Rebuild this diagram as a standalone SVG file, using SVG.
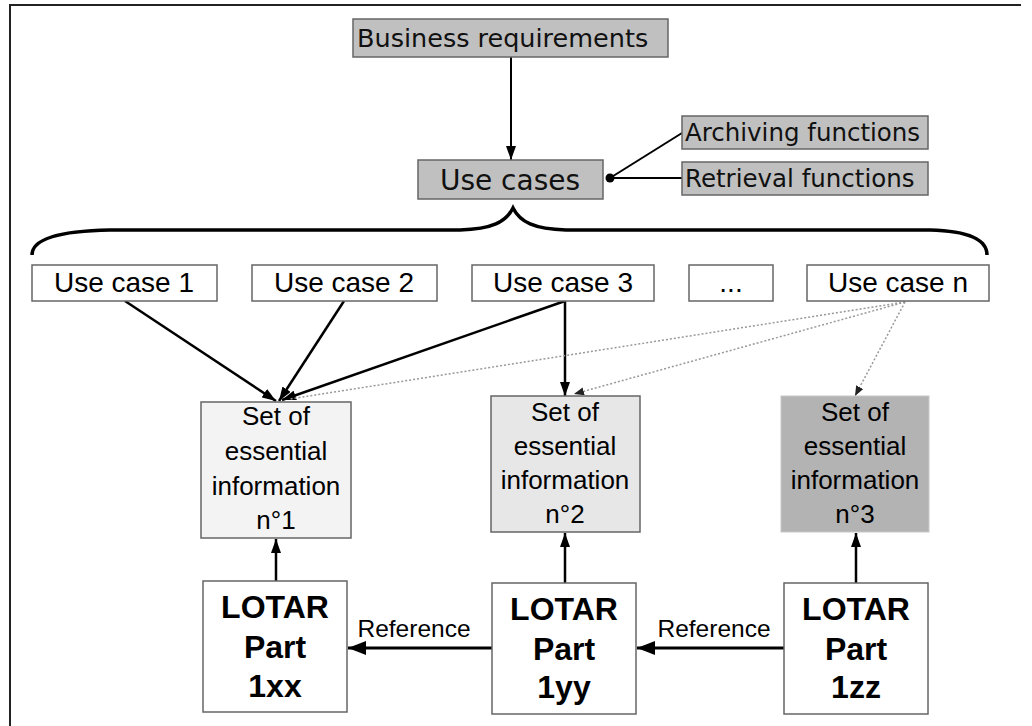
<svg xmlns="http://www.w3.org/2000/svg" width="1032" height="726" viewBox="0 0 1032 726">
  <style>
    .grey { fill: #c0c0c0; stroke: #666; stroke-width: 1.5; }
    .uc { fill: #fff; stroke: #666; stroke-width: 1.5; }
    .set { stroke: #666; stroke-width: 1.5; }
    .lotar { fill: #fff; stroke: #666; stroke-width: 1.5; }
    .dv { font-family: "DejaVu Sans", sans-serif; fill: #111; }
    .ar { font-family: "Liberation Sans", Arial, sans-serif; fill: #000; text-anchor: middle; }
    .s26 { font-size: 26px; }
    .bold { font-weight: bold; font-size: 32px; }
    .solid { stroke: #000; fill: none; }
    .dot { stroke: #999; stroke-width: 1.5; stroke-dasharray: 2 2; fill: none; }
  </style>
  <defs>
    <marker id="head" viewBox="0 0 14 10" refX="14" refY="5" markerWidth="14" markerHeight="10" markerUnits="userSpaceOnUse" orient="auto">
      <path d="M0,0 L14,5 L0,10 z" fill="#000"/>
    </marker>
    <marker id="headBig" viewBox="0 0 18 14" refX="18" refY="7" markerWidth="18" markerHeight="14" markerUnits="userSpaceOnUse" orient="auto">
      <path d="M0,0 L18,7 L0,14 z" fill="#000"/>
    </marker>
    <marker id="headDot" viewBox="0 0 10 8" refX="10" refY="4" markerWidth="10" markerHeight="8" markerUnits="userSpaceOnUse" orient="auto">
      <path d="M0,0 L10,4 L0,8 z" fill="#222"/>
    </marker>
  </defs>

  <rect width="1032" height="726" fill="#fff"/>
  <!-- frame -->
  <path d="M10,730 L10,5 L1021,5" fill="none" stroke="#222" stroke-width="2"/>

  <g id="connectors">
    <line class="solid" x1="511" y1="57" x2="511" y2="160" stroke-width="2" marker-end="url(#head)"/>
    <line class="solid" x1="682" y1="133" x2="610" y2="178" stroke-width="2"/>
    <line class="solid" x1="682" y1="178" x2="610" y2="178" stroke-width="2"/>
    <circle cx="610" cy="178" r="4.5" fill="#000"/>
    <!-- brace -->
    <path class="solid" stroke-width="3.5" d="M32,255 C32,240 55,231 110,230 L460,230 C492,229 506,222 513,208 C520,222 534,229 566,230 L930,230 C970,231 987,240 987,255"/>
    <!-- use cases to sets -->
    <line class="solid" stroke-width="2.5" x1="125" y1="301" x2="276" y2="401" marker-end="url(#head)"/>
    <line class="solid" stroke-width="2.5" x1="344" y1="301" x2="279" y2="401" marker-end="url(#head)"/>
    <line class="solid" stroke-width="2.5" x1="565" y1="301" x2="282" y2="400" marker-end="url(#head)"/>
    <line class="solid" stroke-width="2.5" x1="565" y1="301" x2="565" y2="396" marker-end="url(#head)"/>
    <line class="dot" x1="905" y1="302" x2="290" y2="399"/>
    <line class="dot" x1="905" y1="302" x2="574" y2="394" marker-end="url(#headDot)"/>
    <line class="dot" x1="905" y1="302" x2="855" y2="396" marker-end="url(#headDot)"/>
    <!-- parts to sets -->
    <line class="solid" stroke-width="2.5" x1="276" y1="581" x2="276" y2="539" marker-end="url(#head)"/>
    <line class="solid" stroke-width="2.5" x1="565" y1="583" x2="565" y2="533" marker-end="url(#head)"/>
    <line class="solid" stroke-width="2.5" x1="856" y1="583" x2="856" y2="533" marker-end="url(#head)"/>
    <!-- references -->
    <line class="solid" stroke-width="3" x1="492" y1="648" x2="348" y2="648" marker-end="url(#headBig)"/>
    <line class="solid" stroke-width="3" x1="784" y1="648" x2="637" y2="648" marker-end="url(#headBig)"/>
    <text class="ar" x="414" y="637" font-size="24.5">Reference</text>
    <text class="ar" x="714" y="637" font-size="24.5">Reference</text>
  </g>

  <g id="business-requirements">
    <rect class="grey" x="353" y="19" width="315" height="38"/>
    <text class="dv" x="357" y="47" font-size="25.5">Business requirements</text>
  </g>
  <g id="use-cases">
    <rect class="grey" x="418" y="160" width="185" height="39"/>
    <text class="dv" x="510" y="190" font-size="28" text-anchor="middle">Use cases</text>
  </g>
  <g id="archiving-functions">
    <rect class="grey" x="682" y="116" width="246" height="33"/>
    <text class="dv" x="685" y="141" font-size="24.5">Archiving functions</text>
  </g>
  <g id="retrieval-functions">
    <rect class="grey" x="682" y="162" width="246" height="33"/>
    <text class="dv" x="685" y="187" font-size="24.5">Retrieval functions</text>
  </g>

  <g id="use-case-1">
    <rect class="uc" x="32" y="265" width="185" height="36"/>
    <text class="ar" x="124" y="292" font-size="28">Use case 1</text>
  </g>
  <g id="use-case-2">
    <rect class="uc" x="252" y="265" width="185" height="36"/>
    <text class="ar" x="344" y="292" font-size="28">Use case 2</text>
  </g>
  <g id="use-case-3">
    <rect class="uc" x="472" y="265" width="182" height="36"/>
    <text class="ar" x="563" y="292" font-size="28">Use case 3</text>
  </g>
  <g id="use-case-more">
    <rect class="uc" x="689" y="265" width="84" height="36"/>
    <text class="ar" x="731" y="292" font-size="28">...</text>
  </g>
  <g id="use-case-n">
    <rect class="uc" x="807" y="265" width="182" height="36"/>
    <text class="ar" x="898" y="292" font-size="28">Use case n</text>
  </g>

  <g id="set-1">
    <rect class="set" x="201" y="402" width="150" height="136" fill="#f3f3f3"/>
    <text class="ar s26" x="276" y="425">Set of</text>
    <text class="ar s26" x="276" y="460">essential</text>
    <text class="ar s26" x="276" y="495">information</text>
    <text class="ar s26" x="276" y="529">n°1</text>
  </g>
  <g id="set-2">
    <rect class="set" x="491" y="396" width="149" height="136" fill="#e7e7e7"/>
    <text class="ar s26" x="565" y="421">Set of</text>
    <text class="ar s26" x="565" y="455">essential</text>
    <text class="ar s26" x="565" y="489">information</text>
    <text class="ar s26" x="565" y="523">n°2</text>
  </g>
  <g id="set-3">
    <rect x="781" y="396" width="148" height="136" fill="#b3b3b3" stroke="#c8c8c8" stroke-width="1"/>
    <text class="ar s26" x="855" y="421">Set of</text>
    <text class="ar s26" x="855" y="455">essential</text>
    <text class="ar s26" x="855" y="489">information</text>
    <text class="ar s26" x="855" y="523">n°3</text>
  </g>

  <g id="lotar-1xx">
    <rect class="lotar" x="203" y="581" width="144" height="131"/>
    <text class="ar bold" x="275" y="618">LOTAR</text>
    <text class="ar bold" x="275" y="658">Part</text>
    <text class="ar bold" x="275" y="697">1xx</text>
  </g>
  <g id="lotar-1yy">
    <rect class="lotar" x="492" y="583" width="144" height="131"/>
    <text class="ar bold" x="564" y="620">LOTAR</text>
    <text class="ar bold" x="564" y="660">Part</text>
    <text class="ar bold" x="564" y="698">1yy</text>
  </g>
  <g id="lotar-1zz">
    <rect class="lotar" x="784" y="583" width="144" height="131"/>
    <text class="ar bold" x="856" y="620">LOTAR</text>
    <text class="ar bold" x="856" y="660">Part</text>
    <text class="ar bold" x="856" y="698">1zz</text>
  </g>
</svg>
